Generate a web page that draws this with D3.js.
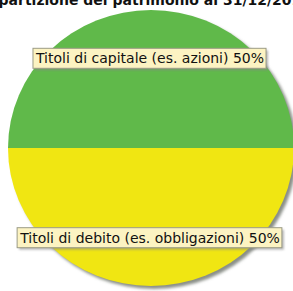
<!DOCTYPE html>
<html>
<head>
<meta charset="utf-8">
<script src="https://cdn.jsdelivr.net/npm/d3@7"></script>
<style>
  body { margin: 0; background: #fff; }
  svg { display: block; }
</style>
</head>
<body>
<div id="chart"></div>
<script>
// data
var title = 'Ripartizione del patrimonio al 31/12/2015';
var categories = ['Titoli di capitale (es. azioni)', 'Titoli di debito (es. obbligazioni)'];
var values = [50, 50];
var colors = ['#60b94a', '#f0e612'];

const width = 293, height = 291;
const cx = 151, cy = 148, rx = 143, ry = 138;

var svg = d3.select('#chart').append('svg')
  .attr('width', width)
  .attr('height', height);

var defs = svg.append('defs');
var blur = defs.append('filter').attr('id', 'blur')
  .attr('x', '-10%').attr('y', '-10%').attr('width', '120%').attr('height', '120%');
blur.append('feGaussianBlur').attr('stdDeviation', 1.5);

var lblur = defs.append('filter').attr('id', 'lblur');
lblur.append('feGaussianBlur').attr('stdDeviation', 0.8);

// title (clipped at top of image, as in the original)
svg.append('text')
  .attr('x', cx - 4)
  .attr('y', 5)
  .attr('text-anchor', 'middle')
  .attr('font-family', 'DejaVu Sans')
  .attr('font-weight', 'bold')
  .attr('font-size', 14)
  .attr('fill', '#111')
  .text(title);

var pie = d3.pie().sort(null)
  .startAngle(-Math.PI / 2)
  .endAngle(3 * Math.PI / 2);

var arc = d3.arc().innerRadius(0).outerRadius(ry);
var labelArc = d3.arc().innerRadius(ry * 0.65).outerRadius(ry * 0.65);

var arcs = pie(values);

// shadow
svg.append('ellipse')
  .attr('cx', cx + 3)
  .attr('cy', cy + 3)
  .attr('rx', rx)
  .attr('ry', ry)
  .attr('fill', '#8a8f88')
  .attr('filter', 'url(#blur)');

var g = svg.append('g')
  .attr('transform', `translate(${cx},${cy}) scale(${rx / ry},1)`);

g.selectAll('path').data(arcs).enter().append('path')
  .attr('d', arc)
  .attr('fill', (d, i) => colors[i]);

// labels
var labels = svg.append('g')
  .attr('transform', `translate(${cx},${cy})`);

arcs.forEach(function(d, i) {
  var c = labelArc.centroid(d);
  var lg = labels.append('g')
    .attr('transform', `translate(${c[0] * rx / ry - 1},${c[1]})`);
  var t = lg.append('text')
    .attr('text-anchor', 'middle')
    .attr('y', 5)
    .attr('font-family', 'DejaVu Sans')
    .attr('font-size', 14)
    .attr('fill', '#111')
    .text(categories[i] + ' ' + values[i] + '%');
  var bb = t.node().getBBox();
  lg.insert('rect', 'text')
    .attr('x', bb.x - 2 + 2)
    .attr('y', -10 + 2)
    .attr('width', bb.width + 4)
    .attr('height', 20)
    .attr('fill', '#888')
    .attr('opacity', 0.6)
    .attr('filter', 'url(#lblur)');
  lg.insert('rect', 'text')
    .attr('x', bb.x - 2)
    .attr('y', -10)
    .attr('width', bb.width + 4)
    .attr('height', 20)
    .attr('fill', '#fcf3c2')
    .attr('stroke', '#9b9b85')
    .attr('stroke-width', 1);
});
</script>
</body>
</html>
